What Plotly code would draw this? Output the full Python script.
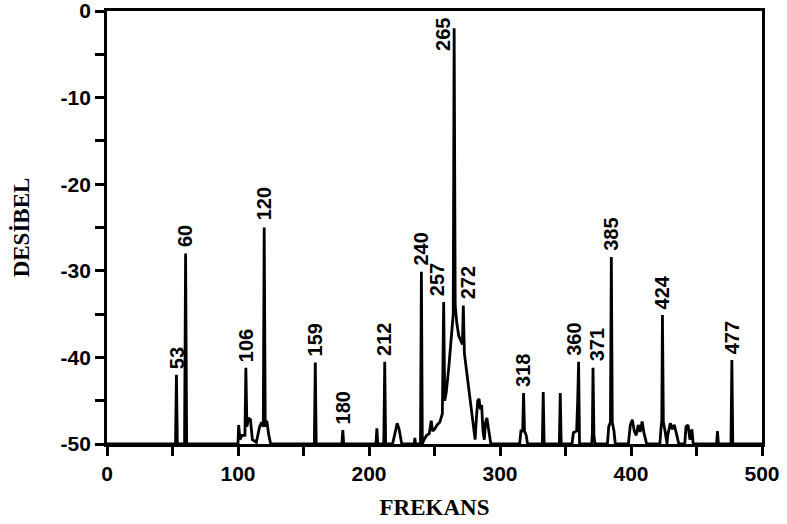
import plotly.graph_objects as go

# Spectrum trace (frequency, level in dB)
spectrum_freq = [
    0, 52.3, 53, 53.7, 59.2, 60, 60.8,
    100, 100.5, 101.5, 103, 105.3, 106, 106.8, 108, 109.5, 111, 114, 116.5, 118, 119.3, 120, 120.8, 122, 123.5, 125,
    158.3, 159, 159.7, 179.3, 180, 180.7,
    205.3, 206, 206.7, 211.3, 212, 212.7,
    218, 220, 221.5, 223, 225, 234.5, 235, 235.5,
    239.3, 240, 240.7, 242, 244, 246, 247.5, 248.5, 250, 252, 254, 256, 257, 257.8, 259, 261, 263, 264.3,
    265, 265.8, 267, 268.5, 271.3, 272, 272.8, 274, 276, 278, 280, 281, 282, 283, 284, 285, 286, 287, 288,
    289, 290, 291, 292, 293,
    315, 316, 317.3, 318, 318.7, 320, 321,
    332.3, 333, 333.7, 345.3, 346, 346.7,
    355, 356, 358.5, 359.3, 360, 360.7,
    370, 370.5, 371, 371.7, 372.5,
    382, 383, 384.3, 385, 385.7, 387, 388,
    398, 399.5, 401, 402.5, 404, 405.5, 407, 408.5, 410, 412,
    422, 423, 423.5, 424, 424.7, 426, 427.5, 428, 430, 431.5, 433, 435, 436.5,
    441, 442, 443.5, 445, 446.5, 447.5,
    465.3, 466, 466.7, 476.3, 477, 477.7, 500,
]
spectrum_db = [
    -50, -50, -42, -50, -50, -28, -50,
    -50, -47.8, -49.5, -49, -49, -41.2, -48, -47, -47.2, -49.5, -49.8, -48, -47.5, -48, -25, -48, -47.3, -49, -50,
    -50, -40.6, -50, -50, -48.4, -50,
    -50, -48.2, -50, -50, -40.5, -50,
    -50, -48.5, -47.6, -48.3, -50, -50, -49.3, -50,
    -50, -30.1, -50, -49.5, -49, -48.8, -47.3, -48.5, -48.3, -47.8, -47.5, -46.5, -33.6, -45, -44, -41, -37.5, -35,
    -2, -34, -36, -37.5, -38.5, -34, -39.5, -41, -43, -45.5, -48.5, -49.5, -47, -45, -44.8, -46, -45.5, -48.5, -49.5,
    -47.5, -47, -48, -49.5, -50,
    -50, -48.5, -48.5, -44.1, -48.5, -49, -50,
    -50, -44, -50, -50, -44.1, -50,
    -50, -48.7, -48.5, -45, -40.5, -50,
    -50, -48.8, -41.2, -49, -50,
    -50, -48, -47.5, -28.4, -47.5, -48.5, -50,
    -50, -47.8, -47.2, -48.5, -49, -47.8, -48.6, -47.4, -48.8, -50,
    -50, -48, -47.3, -35.1, -47.5, -48.5, -50, -49, -47.6, -48.3, -47.8, -49, -50,
    -50, -48, -47.8, -49.5, -48.3, -50,
    -50, -48.5, -50, -50, -40.3, -50, -50,
]

# Labelled peaks
peak_freq = [53, 60, 106, 120, 159, 180, 212, 240, 257, 265, 272, 318, 360, 371, 385, 424, 477]
peak_db = [-42, -28, -41.2, -24.9, -40.6, -48.4, -40.5, -30.1, -33.6, -2, -34, -44.1, -40.5, -41.2, -28.4, -35.1, -40.3]
peak_text = ["53", "60", "106", "120", "159", "180", "212", "240", "257", "265", "272", "318", "360", "371", "385", "424", "477"]

x_tickvals = [0, 100, 200, 300, 400, 500]
x_ticktext = ["0", "100", "200", "300", "400", "500"]
y_tickvals = [0, -10, -20, -30, -40, -50]
y_ticktext = ["0", "-10", "-20", "-30", "-40", "-50"]

fig = go.Figure()
fig.add_trace(go.Scatter(
    x=spectrum_freq, y=spectrum_db, mode="lines",
    line=dict(color="black", width=2.8), showlegend=False, hoverinfo="skip",
))

label_font = dict(family="Liberation Sans", size=20, color="black", weight="bold")
xshift = {"257": -6, "272": 5, "360": -4, "371": 4}
for f, d, t in zip(peak_freq, peak_db, peak_text):
    if t == "265":
        fig.add_annotation(x=f, y=d, text=t, textangle=-90, showarrow=False,
                           xanchor="center", yanchor="top", xshift=-11, yshift=12, font=label_font)
    else:
        fig.add_annotation(x=f, y=d, text=t, textangle=-90, showarrow=False,
                           xanchor="center", yanchor="bottom", xshift=xshift.get(t, 0), yshift=4,
                           font=label_font)

axis_common = dict(
    showgrid=False, zeroline=False, showline=True, linecolor="black", linewidth=2.8,
    mirror=True, ticks="outside", tickcolor="black", tickwidth=2.5, ticklen=9,
    tickfont=dict(family="Liberation Sans", size=21, color="black", weight="bold"),
    automargin=False, ticklabeloverflow="allow",
)

fig.update_xaxes(
    range=[0, 500], tickmode="array", tickvals=x_tickvals, ticktext=x_ticktext,
    title=dict(text="FREKANS", font=dict(family="Liberation Serif", size=23, color="black", weight="bold"), standoff=15),
    minor=dict(dtick=50, tick0=0, ticks="outside", ticklen=9, tickwidth=2.5, tickcolor="black"),
    **axis_common,
)
fig.update_yaxes(
    range=[-50, 0], tickmode="array", tickvals=y_tickvals, ticktext=y_ticktext,
    title=dict(text="DESİBEL", font=dict(family="Liberation Serif", size=23, color="black", weight="bold"), standoff=25),
    minor=dict(dtick=5, tick0=0, ticks="outside", ticklen=9, tickwidth=2.5, tickcolor="black"),
    **axis_common,
)

fig.update_layout(
    width=787, height=524,
    margin=dict(l=107, r=25, t=11, b=80, autoexpand=False),
    paper_bgcolor="white", plot_bgcolor="white",
)

fig.write_html("out.html", config={"displayModeBar": False},
               post_script="document.body.style.margin='0px';")
